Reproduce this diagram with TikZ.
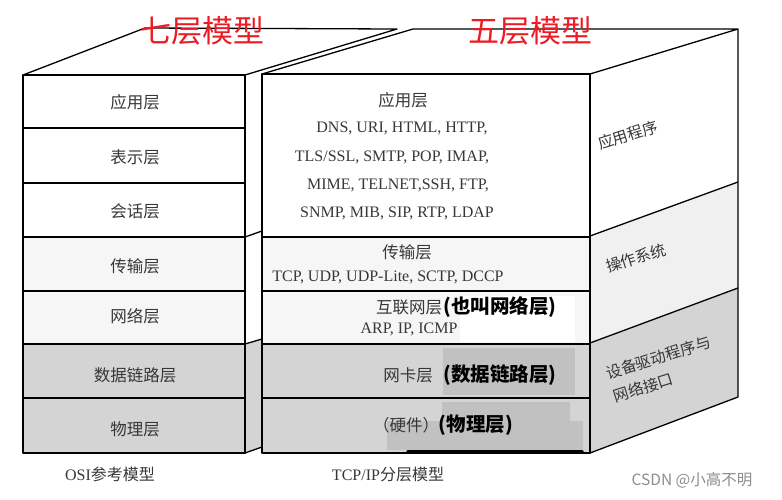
\documentclass[tikz,border=0pt]{standalone}
\usepackage{fontspec}
\setmainfont{Liberation Serif}
\newfontfamily\cjk{Noto Sans CJK SC}
\usepackage{tikz}

\definecolor{layergray}{RGB}{212,212,212}
\definecolor{patchgray}{RGB}{193,193,193}
\definecolor{lightrow}{RGB}{246,246,246}
\definecolor{osgray}{RGB}{240,240,240}
\definecolor{titlered}{RGB}{236,28,36}
\definecolor{inkgray}{RGB}{55,55,55}

\begin{document}
\begin{tikzpicture}[x=1pt,y=-1pt,line width=1.3pt,line join=round,
  lbl/.style={font=\cjk\fontsize{16.5}{16.5}\selectfont,text=inkgray,inner sep=0pt},
  proto/.style={font=\fontsize{16}{16}\selectfont,text=inkgray,inner sep=0pt},
  sidelbl/.style={font=\cjk\fontsize{15.5}{24}\selectfont,text=inkgray,inner sep=0pt,rotate=17.3},
  note/.style={font=\cjk\bfseries\fontsize{19.5}{19.5}\selectfont,inner sep=0pt},
  title/.style={font=\cjk\fontsize{31}{31}\selectfont,text=titlered,inner sep=0pt}]

\useasboundingbox (0,0) rectangle (782,499);

\def\la{23}   \def\lb{245}
\def\ra{262}  \def\rb{590}  \def\rc{738}

%osi box
\fill[lightrow] (\la,237) rectangle (\lb,344);
\fill[layergray] (\la,344) rectangle (\lb,453);
\fill[layergray] (\lb,344) -- (\ra,339) -- (\ra,447) -- (\lb,453) -- cycle;
\draw (\la,75) -- (145,28) -- (397,29) -- (\lb,75);
\draw (\la,75) rectangle (\lb,453);
\foreach \y in {128,183,237,291,344,398}
    \draw (\la,\y) -- (\lb,\y);
\foreach \y/\yb in {237/231, 344/339, 453/447}
    \draw (\lb,\y) -- (\ra,\yb);

%tcp/ip box
\fill[lightrow] (\ra,237) rectangle (\rb,344);
\fill[layergray] (\ra,344) rectangle (\rb,453);
\fill[osgray] (\rb,236) -- (\rc,182) -- (\rc,288) -- (\rb,343) -- cycle;
\fill[layergray] (\rb,343) -- (\rc,288) -- (\rc,397) -- (\rb,453) -- cycle;
% pasted patches
\fill[white] (460,296) rectangle (575,342);
\fill[patchgray] (443,348) rectangle (575,395);
\fill[patchgray] (442,402) -- (570,402) -- (570,421) -- (583,421) -- (583,450)
    -- (387,450) -- (387,421) -- (442,421) -- cycle;
\draw (\ra,74) -- (413,29) -- (\rc,29) -- (\rb,74);
\draw (\ra,74) rectangle (\rb,453);
\draw (\rb,453) -- (\rc,397) -- (\rc,29);
\foreach \y in {237,291,344,398}
    \draw (\ra,\y) -- (\rb,\y);
\draw (\rb,236) -- (\rc,182);
\draw (\rb,343) -- (\rc,288);
\draw[line width=3.5pt,line cap=round] (408,452) -- (582,452);

% osi layer names
\foreach \y/\name/\n in {102/应用层/app, 157/表示层/pre, 211/会话层/ses, 266/传输层/tra,
        316/网络层/net, 375/数据链路层/dat, 429/物理层/phy}
    \node[lbl] (osi-\n) at (135,\y) {\name};

% tcp/ip layers
\node[lbl] (tcp-app) at (403,100) {应用层};
\foreach \y/\x/\txt/\n in {128/402/{DNS, URI, HTML, HTTP,}/a,
        157/392/{TLS/SSL, SMTP, POP, IMAP,}/b,
        185/398/{MIME, TELNET,SSH, FTP,}/c,
        213/397/{SNMP, MIB, SIP, RTP, LDAP}/d}
    \node[proto] (app-\n) at (\x,\y) {\txt};
\node[lbl] (tcp-tra) at (407,252) {传输层};
\node[proto] (tra-p) at (388,277) {TCP, UDP, UDP-Lite, SCTP, DCCP};
\node[lbl] (tcp-net) at (409,307) {互联网层};
\node[note] (net-note) at (500,307) {(也叫网络层)};
\node[proto] (net-p) at (409,329) {ARP, IP, ICMP};
\node[lbl] (tcp-lnk) at (408,375) {网卡层};
\node[note] (lnk-note) at (500,375) {(数据链路层)};
\node[lbl] (tcp-phy) at (406,425) {（硬件）};
\node[note] (phy-note) at (476,425) {(物理层)};

% side face
\node[sidelbl] (side-app) at (628,135) {应用程序};
\node[sidelbl] (side-os) at (636,258) {操作系统};
\node[sidelbl,align=left] (side-drv) at (662,369) {设备驱动程序与\\网络接口};

% titles and captions
\node[title] (t7) at (202,31) {七层模型};
\node[title] (t5) at (530,31) {五层模型};
\node[proto] (cap-osi) at (110,474) {OSI{\cjk 参考模型}};
\node[proto] (cap-tcp) at (388,474) {TCP/IP{\cjk 分层模型}};
\node[font=\cjk\fontsize{15.5}{15.5}\selectfont,text=black!45,inner sep=0pt] (mark) at (692,480) {CSDN @小高不明};
\end{tikzpicture}
\end{document}
